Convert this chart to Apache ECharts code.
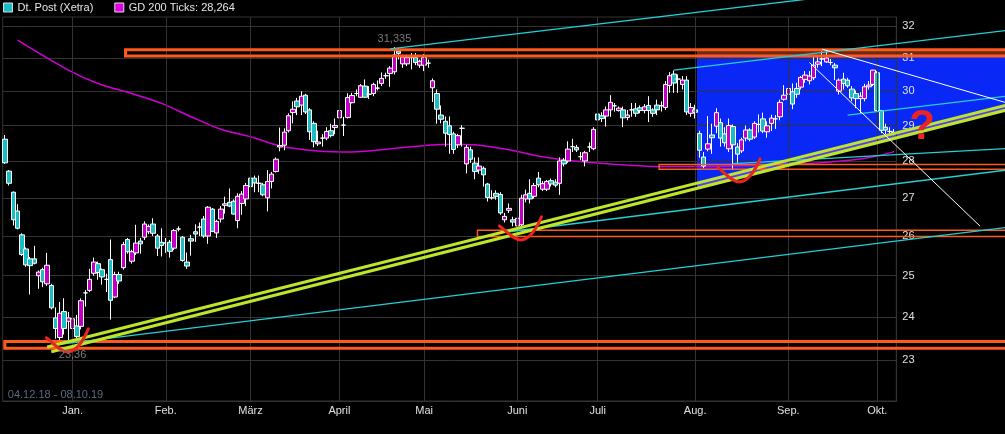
<!DOCTYPE html>
<html><head><meta charset="utf-8">
<script src="https://cdn.jsdelivr.net/npm/echarts@6/dist/echarts.min.js"></script>
<style>html,body{margin:0;padding:0;background:#000;}#c{width:1005px;height:434px;}</style>
</head><body><div id="c"></div>
<script>
// ---------------- data ----------------
const seriesName = 'Dt. Post (Xetra)';
const maName = 'GD 200 Ticks: 28,264';
const dateRangeText = '04.12.18 - 08.10.19';
const yTicks = [23, 24, 25, 26, 27, 28, 29, 30, 31, 32];
const yRange = [22.09, 32.28];
const monthNames = {'01':'Jan.','02':'Feb.','03':'März','04':'April','05':'Mai','06':'Juni','07':'Juli','08':'Aug.','09':'Sep.','10':'Okt.','11':'Nov.','12':'Dez.'};
const tradingDays = [
  ['12.18', [4,5,6,7,10,11,12,13,14,17,18,19,20,21,27,28]],
  ['01.19', [2,3,4,7,8,9,10,11,14,15,16,17,18,21,22,23,24,25,28,29,30,31]],
  ['02.19', [1,4,5,6,7,8,11,12,13,14,15,18,19,20,21,22,25,26,27,28]],
  ['03.19', [1,4,5,6,7,8,11,12,13,14,15,18,19,20,21,22,25,26,27,28,29]],
  ['04.19', [1,2,3,4,5,8,9,10,11,12,15,16,17,18,23,24,25,26,29,30]],
  ['05.19', [2,3,6,7,8,9,10,13,14,15,16,17,20,21,22,23,24,27,28,29,30,31]],
  ['06.19', [3,4,5,6,7,11,12,13,14,17,18,19,20,21,24,25,26,27,28]],
  ['07.19', [1,2,3,4,5,8,9,10,11,12,15,16,17,18,19,22,23,24,25,26,29,30,31]],
  ['08.19', [1,2,5,6,7,8,9,12,13,14,15,16,19,20,21,22,23,26,27,28,29,30]],
  ['09.19', [2,3,4,5,6,9,10,11,12,13,16,17,18,19,20,23,24,25,26,27,30]],
  ['10.19', [1,2,4,7,8]]
];
// open, close, low, high
const candles = [
[28.61,27.95,27.92,28.73],[27.72,27.39,27.33,27.75],[27.15,26.42,26.27,27.17],[26.65,26.20,26.17,26.83],
[26.03,25.53,25.49,26.07],[25.67,25.27,25.22,25.71],[25.42,25.25,24.54,25.47],[25.42,25.31,25.28,25.75],
[25.00,25.09,24.68,25.13],[25.15,24.85,24.72,25.20],[24.80,25.26,24.75,25.57],[24.76,24.22,24.18,24.80],
[23.98,23.73,23.49,24.23],[23.52,24.09,23.40,24.36],[24.13,23.73,23.59,24.45],[23.90,23.98,23.40,24.12],
[23.73,23.96,23.36,24.30],[23.79,23.54,23.48,24.05],[23.78,24.39,23.71,24.45],[24.58,24.58,24.25,24.65],
[24.64,24.91,24.60,25.17],[25.06,25.34,25.00,25.45],[25.30,25.08,24.90,25.35],[25.15,24.97,24.78,25.18],
[24.91,24.91,24.60,25.05],[25.40,24.40,23.94,25.91],[24.48,25.03,24.45,25.10],[25.03,24.87,24.80,25.10],
[25.20,25.78,25.15,25.85],[25.91,25.60,25.55,25.95],[25.36,25.60,25.30,25.65],[25.57,25.82,25.52,26.29],
[25.87,25.80,25.55,25.95],[25.97,26.31,25.90,26.38],[26.11,26.25,26.05,26.30],[26.31,26.07,26.00,26.46],
[26.00,25.69,25.49,26.05],[25.84,25.76,25.48,26.20],[25.82,25.82,25.57,25.95],[25.84,25.61,25.45,25.90],
[25.69,26.14,25.64,26.18],[26.18,26.18,26.12,26.25],[25.97,25.38,25.35,26.00],[25.34,25.24,25.17,25.58],
[25.93,25.87,25.50,26.03],[26.11,26.05,25.85,26.30],[26.23,26.23,26.00,26.35],[26.44,26.00,25.95,26.52],
[26.00,26.75,25.80,26.78],[26.70,26.12,26.10,26.73],[26.08,26.38,25.95,26.42],[26.44,26.70,26.35,26.78],
[26.80,26.84,26.58,27.03],[26.88,26.78,26.75,27.25],[26.91,26.57,26.55,26.96],[26.40,27.04,26.20,27.12],
[26.85,27.10,26.55,27.18],[26.97,27.33,26.78,27.40],[27.53,27.30,27.14,27.70],[27.53,27.40,27.15,27.60],
[27.39,27.39,27.15,27.60],[27.35,27.08,27.04,27.40],[27.00,27.44,26.64,27.75],[27.44,27.64,27.25,27.70],
[27.71,28.05,27.68,28.10],[28.39,28.43,28.27,28.94],[28.44,28.81,28.30,28.92],[28.85,29.28,28.80,29.35],
[29.37,29.47,29.06,29.70],[29.71,29.54,29.30,29.80],[29.59,29.85,29.30,30.00],[29.88,29.39,29.33,29.92],
[29.45,28.82,28.59,29.50],[29.06,28.54,28.38,29.12],[28.48,28.53,28.42,28.85],[28.64,28.64,28.40,28.75],
[28.64,28.83,28.58,28.95],[28.85,28.71,28.66,29.05],[28.94,29.00,28.75,29.20],[29.22,29.43,29.06,29.50],
[29.01,29.01,28.70,29.25],[29.23,29.81,29.20,29.94],[29.66,29.87,29.64,29.95],[29.93,29.93,29.85,30.05],
[29.82,30.16,29.80,30.21],[30.15,29.82,29.80,30.35],[29.91,29.91,29.77,30.15],[29.93,30.20,29.85,30.25],
[30.09,30.09,30.02,30.32],[30.23,30.38,30.15,30.56],[30.46,30.46,30.37,30.55],[30.53,30.69,30.13,30.75],
[30.58,31.09,30.50,31.335],[31.21,31.14,30.95,31.30],[30.82,31.03,30.70,31.10],[30.82,31.01,30.75,31.10],
[31.03,31.03,30.65,31.15],[31.01,30.86,30.78,31.15],[30.78,30.90,30.70,30.95],[30.78,31.01,30.60,31.12],
[30.84,30.84,30.70,30.95],[30.10,30.31,29.68,30.38],[29.93,29.47,29.05,30.05],[29.30,29.18,29.06,29.58],
[29.12,28.78,28.40,29.26],[28.99,28.74,28.20,29.26],[28.76,28.32,28.20,28.82],[28.45,28.71,28.36,28.76],
[28.92,28.92,28.40,29.01],[27.92,28.38,27.66,28.45],[28.31,28.05,27.95,28.40],[27.94,27.71,27.50,28.10],
[27.75,27.86,27.65,28.10],[27.80,27.62,27.30,27.85],[27.37,27.01,26.90,27.40],[27.00,27.00,26.95,27.20],
[27.12,27.04,26.95,27.20],[27.09,26.60,26.55,27.15],[26.42,26.51,26.35,26.60],[26.67,26.72,26.60,26.85],
[26.42,26.36,26.25,26.50],[26.26,26.46,26.12,26.52],[26.29,26.99,26.22,27.08],[26.97,27.08,26.88,27.22],
[27.12,26.97,26.85,27.50],[27.04,27.33,26.98,27.40],[27.53,27.35,27.28,27.70],[27.23,27.38,27.18,27.45],
[27.23,27.44,27.18,27.48],[27.46,27.37,27.30,27.52],[27.42,27.34,27.28,27.50],[27.39,28.00,27.08,28.10],
[28.02,27.92,27.85,28.08],[28.00,28.33,27.95,28.55],[28.40,28.40,28.25,28.62],[28.38,28.31,28.25,28.45],
[28.12,28.12,28.02,28.25],[28.00,28.23,27.85,28.28],[28.39,28.39,28.25,28.52],[28.34,28.89,28.30,28.95],
[29.33,29.16,29.10,29.40],[29.28,29.20,29.10,29.38],[29.27,29.45,28.97,29.55],[29.45,29.67,29.25,29.88],
[29.57,29.57,29.40,29.65],[29.43,29.50,29.40,29.55],[29.45,29.22,28.95,29.55],[29.23,29.30,29.15,29.45],
[29.45,29.45,29.25,29.65],[29.48,29.35,29.25,29.65],[29.51,29.43,29.35,29.58],[29.43,29.54,29.35,29.62],
[29.58,29.43,29.10,29.85],[29.45,29.35,29.25,29.50],[29.59,29.45,29.30,29.75],[29.57,29.57,29.40,29.70],
[29.52,30.20,29.45,30.30],[30.17,30.46,29.95,30.57],[30.51,30.24,29.95,30.62],[30.36,30.36,29.95,30.50],
[30.20,30.33,30.05,30.45],[30.33,29.39,29.30,30.45],[29.35,29.52,29.25,29.65],[29.45,29.38,29.20,29.60],
[28.77,28.30,28.09,28.85],[28.11,27.86,27.80,28.25],[28.33,28.48,28.27,29.27],[28.73,28.65,28.20,29.05],
[28.98,29.37,28.78,29.50],[29.08,28.64,28.40,29.20],[28.76,28.51,28.40,28.95],[28.34,29.00,28.25,29.20],
[28.97,28.45,27.75,29.03],[28.39,28.19,27.95,28.50],[28.28,28.59,28.22,28.65],[28.64,28.87,28.55,29.00],
[28.87,28.61,28.55,28.92],[28.67,29.06,28.62,29.12],[29.03,29.03,28.80,29.32],[29.19,28.84,28.78,29.37],
[28.82,28.99,28.65,29.12],[29.06,29.21,28.84,29.31],[29.19,29.19,28.90,29.30],[29.25,29.67,29.15,29.75],
[29.76,29.88,29.72,30.18],[29.91,30.08,29.85,30.23],[29.98,29.62,29.47,30.23],[30.08,29.91,29.80,30.25],
[30.12,30.41,30.05,30.45],[30.35,30.48,30.25,30.60],[30.31,30.45,30.20,30.60],[30.40,30.78,30.33,31.05],
[30.81,30.88,30.70,31.05],[30.97,30.97,30.75,31.20],[30.88,31.00,30.85,31.24],[30.86,30.86,30.78,30.97],
[30.78,30.70,30.33,30.85],[30.00,30.33,29.90,30.38],[30.36,30.23,30.05,30.55],[30.33,30.16,30.10,30.40],
[30.06,29.80,29.70,30.15],[29.93,29.78,29.50,30.02],[29.78,29.85,29.36,29.97],[29.78,30.13,29.70,30.22],
[30.13,30.18,30.05,30.30],[30.20,30.63,30.15,30.64],[30.55,29.43,29.40,30.60],[29.43,28.86,28.78,29.45],
[28.95,28.87,28.75,29.05],[28.83,28.83,28.70,28.95],[28.80,28.80,28.72,28.90]
];
// 200-day average: [trading-day index, value]
const ma200 = [[3,31.55],[15,30.63],[22,30.23],[30,29.93],[37,29.64],[44,29.25],[51,28.89],[58,28.68],
[65,28.42],[74,28.28],[82,28.25],[89,28.31],[96,28.40],[105,28.47],[111,28.45],[119,28.31],[127,28.12],
[135,27.99],[143,27.92],[154,27.85],[164,27.85],[174,27.87],[188,27.92],[200,28.03],[206,28.14],[210,28.26]];
const highMark = [92, 31.335, '31,335'];
const lowMark = [16, 23.36, '23,36'];
// drawn annotations, in [index, price]
const orangeBoxes = [[28.5, 31.25, 31.06, 3], [0, 23.43, 23.27, 3], [154.5, 27.90, 27.77, 1.5], [111.6, 26.15, 25.99, 1.5]];
const yellowLines = [[[10, 23.30], [200, 28.47]], [[11, 23.19], [200, 28.33]]];
const cyanLines = [[[91, 31.28], [188, 32.83]], [[158, 30.63], [200, 31.28]], [[199, 29.30], [210, 29.46]],
  [[11, 23.34], [200, 25.73]], [[119, 26.11], [200, 27.23]], [[172, 27.93], [200, 28.11]]];
const whiteLines = [[[193, 31.27], [210, 30.63], null], [[190, 30.86], [210, 28.48], 980]];
const blueBox = [163.44, 31.06];
const brownBand = [31.25, 31.06];
const checkMarks = [[15, 23.19], [122, 25.90], [173.6, 27.43]];
const questionMark = [210, 28.95];

// ---------------- chart ----------------
const FONT = '"Liberation Sans", Arial, sans-serif';
const CYAN = '#1cbcc4', MAG = '#c000c4';
const L = v => Math.log10(v);
const dates = [];
tradingDays.forEach(([my, days]) => days.forEach(d => dates.push(String(d).padStart(2, '0') + '.' + my)));
const monthStarts = [];
dates.forEach((d, i) => { if (i > 0 && d.slice(3, 5) !== dates[i - 1].slice(3, 5)) monthStarts.push(i); });
const monthStartSet = new Set(monthStarts);

function P(api, i, p) {
  const i0 = Math.floor(i), t = i - i0;
  const a = api.coord([i0, L(p)]);
  if (t === 0) return a;
  const b = api.coord([i0 + 1, L(p)]);
  return [a[0] + (b[0] - a[0]) * t, a[1]];
}
function seg(api, ln) { return [P(api, ln[0][0], ln[0][1]), P(api, ln[1][0], ln[1][1])]; }
function yAt(s, x) { const A = s[0], B = s[1]; return A[1] + (B[1] - A[1]) * (x - A[0]) / (B[0] - A[0]); }

function renderBackdrop(params, api) {
  const W = api.getWidth();
  const tl = P(api, blueBox[0], blueBox[1]);
  const x0 = tl[0];
  const up = seg(api, yellowLines[0]), lo = seg(api, yellowLines[1]);
  const b1 = P(api, blueBox[0], brownBand[0]), b2 = P(api, blueBox[0], brownBand[1]);
  return { type: 'group', children: [
    { type: 'polygon', shape: { points: [[x0, tl[1]], [W, tl[1]], [W, yAt(lo, W)], [x0, yAt(lo, x0)]] }, style: { fill: '#0a28f5' } },
    { type: 'polygon', shape: { points: [[x0, yAt(up, x0)], [W, yAt(up, W)], [W, yAt(lo, W)], [x0, yAt(lo, x0)]] }, style: { fill: '#5a3cf0' } },
    { type: 'rect', shape: { x: x0, y: b1[1], width: W - x0, height: b2[1] - b1[1] }, style: { fill: '#6a2a14' } }
  ]};
}

function renderOverlay(params, api) {
  const W = api.getWidth() + 10;
  const ch = [];
  orangeBoxes.forEach(([i, top, bot, w]) => {
    const a = P(api, i, top), b = P(api, i, bot);
    ch.push({ type: 'rect', shape: { x: a[0], y: a[1], width: W - a[0] + 20, height: b[1] - a[1] }, style: { fill: 'none', stroke: '#ff5a1e', lineWidth: w } });
  });
  cyanLines.forEach(ln => {
    const s = seg(api, ln);
    ch.push({ type: 'line', shape: { x1: s[0][0], y1: s[0][1], x2: W, y2: yAt(s, W) }, style: { stroke: '#22d0d8', lineWidth: 1.3 } });
  });
  yellowLines.forEach(ln => {
    const s = seg(api, ln);
    ch.push({ type: 'line', shape: { x1: s[0][0], y1: s[0][1], x2: W, y2: yAt(s, W) }, style: { stroke: '#bde62a', lineWidth: 3 } });
  });
  whiteLines.forEach(([a, b, endX]) => {
    const s = seg(api, [a, b]);
    const x2 = endX == null ? W : endX;
    ch.push({ type: 'line', shape: { x1: s[0][0], y1: s[0][1], x2: x2, y2: yAt(s, x2) }, style: { stroke: '#ffffff', lineWidth: 1 } });
  });
  checkMarks.forEach(([i, p]) => {
    const c = P(api, i, p);
    ch.push({ type: 'path', x: c[0], y: c[1], shape: { pathData: 'M-22,-14 C-15,-9 -7,1 0,0 C8,-1 15,-11 20,-23' }, style: { fill: 'none', stroke: '#ea2420', lineWidth: 3, lineCap: 'round' } });
  });
  const q = P(api, questionMark[0], questionMark[1]);
  ch.push({ type: 'text', x: q[0] + 28, y: q[1], style: { text: '?', fill: '#ea2420', font: 'bold 42px ' + FONT, align: 'center', verticalAlign: 'middle' } });
  const hm = P(api, highMark[0], highMark[1]);
  ch.push({ type: 'text', x: hm[0], y: hm[1] - 8, style: { text: highMark[2], fill: '#7a7a7a', font: '11px ' + FONT, align: 'center', verticalAlign: 'middle' } });
  const lm = P(api, lowMark[0], lowMark[1]);
  ch.push({ type: 'text', x: lm[0], y: lm[1] + 11, style: { text: lowMark[2], fill: '#7a7a7a', font: '11px ' + FONT, align: 'center', verticalAlign: 'middle' } });
  const bl = api.coord([0, L(yRange[0])]);
  ch.push({ type: 'text', x: bl[0] + 3, y: bl[1] - 6, style: { text: dateRangeText, fill: '#5a6a80', font: '11px ' + FONT, align: 'left', verticalAlign: 'middle' } });
  return { type: 'group', children: ch };
}

const chart = echarts.init(document.getElementById('c'));
chart.setOption({
  backgroundColor: '#000',
  animation: false,
  textStyle: { fontFamily: FONT },
  legend: {
    left: 3, top: 2, padding: 0, itemWidth: 9, itemHeight: 9, itemGap: 21, selectedMode: false,
    textStyle: { color: '#e6e6e6', fontSize: 11, fontFamily: FONT },
    data: [
      { name: seriesName, icon: 'rect', itemStyle: { color: CYAN, borderColor: '#dddddd', borderWidth: 1 } },
      { name: maName, icon: 'rect', itemStyle: { color: '#e000e0', borderColor: '#dddddd', borderWidth: 1 } }
    ]
  },
  grid: { left: 2.7, right: 108.7, top: 17, bottom: 33, show: true, borderColor: '#333', borderWidth: 1 },
  xAxis: {
    type: 'category', data: dates, boundaryGap: true,
    axisLine: { show: true, lineStyle: { color: '#333' } }, axisTick: { show: false }, splitLine: { show: false },
    axisLabel: { interval: (i) => monthStartSet.has(i), formatter: v => monthNames[v.slice(3, 5)], color: '#e0e0e0', fontSize: 11, margin: 4 }
  },
  yAxis: {
    type: 'value', position: 'right', min: L(yRange[0]), max: L(yRange[1]), scale: true,
    axisLine: { show: true, lineStyle: { color: '#333' } },
    axisTick: { show: false, customValues: yTicks.map(L) },
    axisLabel: { customValues: yTicks.map(L), formatter: v => String(Math.round(Math.pow(10, v))), color: '#e0e0e0', fontSize: 11, margin: 6 },
    splitLine: { show: true, lineStyle: { color: '#333' } }
  },
  series: [
    { type: 'custom', renderItem: renderBackdrop, data: [[0, L(30)]], z: -1, silent: true },
    {
      name: maName, type: 'line', data: ma200.map(([i, v]) => [i, L(v)]), symbol: 'none', smooth: 0.3, z: 1,
      lineStyle: { color: '#d000d4', width: 1.5 }, itemStyle: { color: '#d000d4' },
      markLine: { silent: true, symbol: 'none', label: { show: false }, animation: false,
        lineStyle: { color: '#333', width: 1, type: 'solid' }, emphasis: { disabled: true },
        data: monthStarts.map(i => ({ xAxis: dates[i] })) }
    },
    {
      name: seriesName, type: 'candlestick', z: 2, barWidth: 5,
      data: candles.map(([o, c, l, h]) => [L(o), L(c), L(l), L(h)]),
      itemStyle: { color: MAG, color0: CYAN, borderColor: '#ffffff', borderColor0: '#ffffff', borderColorDoji: '#ffffff', borderWidth: 1 }
    },
    { type: 'custom', renderItem: renderOverlay, data: [[0, L(30)]], z: 5, silent: true }
  ]
});
</script></body></html>
